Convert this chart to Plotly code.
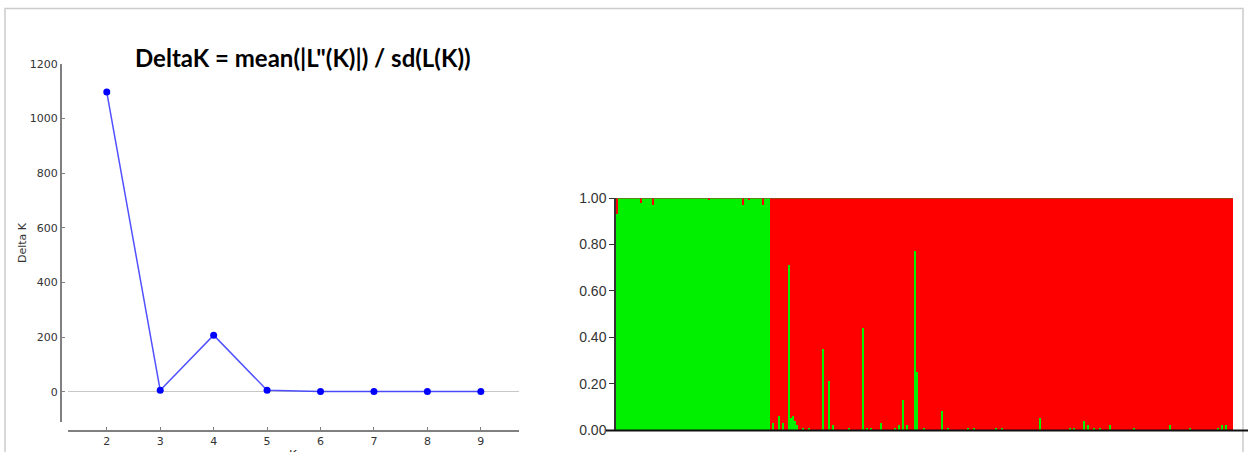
import plotly.graph_objects as go

# ---- Delta K data (Evanno method) ----
k_values = [2, 3, 4, 5, 6, 7, 8, 9]
delta_k = [1097, 5, 207, 5, 0.5, 0.3, 0.5, 0.2]
y_ticks_dk = [0, 200, 400, 600, 800, 1000, 1200]

# ---- STRUCTURE bar plot data (K=2): membership in cluster 1 (green) ----
pop1_green = [
    0.93, 1, 1, 1, 1, 1, 1, 1, 1, 1, 1, 1, 0.98, 1, 1, 1, 1, 1, 0.97, 1,
    1, 1, 1, 1, 1, 1, 1, 1, 1, 1, 1, 1, 1, 1, 1, 1, 1, 1, 1, 1,
    1, 1, 1, 1, 1, 1, 0.99, 1, 1, 1, 1, 1, 1, 1, 1, 1, 1, 1, 1, 1,
    1, 1, 1, 0.97, 1, 1, 0.99, 1, 1, 1, 1, 1, 1, 0.97, 1, 1, 1,
]
pop2_green = [
    0, 0.03, 0, 0, 0.06, 0, 0.03, 0, 0, 0.71, 0.05, 0.06, 0.04, 0.02, 0, 0, 0.01, 0, 0, 0.01,
    0, 0, 0, 0, 0, 0, 0.35, 0, 0, 0.21, 0, 0.02, 0, 0, 0, 0, 0, 0, 0, 0.01,
    0, 0, 0, 0, 0, 0, 0.44, 0, 0.01, 0, 0.01, 0, 0, 0, 0, 0.03, 0, 0, 0, 0,
    0, 0, 0.01, 0, 0.02, 0, 0.13, 0, 0.02, 0, 0, 0, 0.77, 0.25, 0, 0, 0.01, 0, 0, 0,
    0, 0, 0, 0, 0, 0.08, 0, 0, 0.01, 0, 0, 0, 0, 0, 0, 0, 0, 0, 0.01, 0,
    0, 0.01, 0, 0, 0, 0, 0, 0, 0, 0, 0, 0, 0.01, 0, 0, 0.01, 0, 0, 0, 0,
    0, 0, 0, 0, 0, 0, 0, 0, 0, 0, 0, 0, 0, 0, 0.05, 0, 0, 0, 0, 0,
    0, 0, 0, 0, 0, 0, 0, 0, 0, 0.01, 0, 0.01, 0, 0, 0, 0, 0.04, 0, 0.02, 0,
    0, 0.01, 0, 0, 0.01, 0, 0, 0, 0, 0.02, 0, 0, 0, 0, 0, 0, 0, 0, 0, 0,
    0, 0.01, 0, 0, 0, 0, 0, 0, 0, 0, 0, 0, 0, 0, 0, 0, 0, 0, 0, 0.02,
    0, 0, 0, 0, 0, 0, 0, 0, 0, 0.01, 0, 0, 0, 0, 0, 0, 0, 0, 0, 0,
    0, 0, 0, 0.01, 0, 0.02, 0, 0.02, 0, 0, 0,
]
q_ticks = [0, 0.2, 0.4, 0.6, 0.8, 1.0]
q_ticktext = ["0.00", "0.20", "0.40", "0.60", "0.80", "1.00"]

green_q = pop1_green + pop2_green
red_q = [round(1 - g, 4) for g in green_q]
individuals = list(range(len(green_q)))
n_ind = len(green_q)

W, H = 1248, 452
def px(x):
    return x / W
def py(y):
    return 1 - y / H

fig = go.Figure()
fig.add_trace(go.Scatter(
    x=k_values, y=delta_k, mode="lines+markers",
    line=dict(color="rgba(50,50,255,0.85)", width=1.5),
    marker=dict(color="#0000ff", size=7),
    xaxis="x", yaxis="y", hoverinfo="x+y",
))
fig.add_trace(go.Bar(
    x=individuals, y=green_q, marker=dict(color="#00f000", line=dict(width=0)),
    xaxis="x2", yaxis="y2",
))
fig.add_trace(go.Bar(
    x=individuals, y=red_q, marker=dict(color="#ff0000", line=dict(width=0)),
    xaxis="x2", yaxis="y2",
))

tickfont_l = dict(family="DejaVu Sans", size=11, color="#333333")
fig.update_layout(
    width=W, height=H, autosize=False,
    margin=dict(l=0, r=0, t=0, b=0, pad=0),
    paper_bgcolor="white", plot_bgcolor="white",
    showlegend=False, barmode="stack", bargap=0,
    xaxis=dict(
        domain=[px(68.3), px(519.3)], range=[1.28, 9.72],
        anchor="free", position=py(430.7),
        showline=True, linecolor="#808080", linewidth=2,
        ticks="inside", ticklen=3, tickcolor="#808080",
        tickvals=k_values, showgrid=False, zeroline=False,
        tickfont=tickfont_l, automargin=False,
    ),
    yaxis=dict(
        domain=[py(421.7), py(64)], range=[-110, 1200],
        anchor="free", position=px(61),
        showline=True, linecolor="#808080", linewidth=2,
        ticks="inside", ticklen=3, tickcolor="#808080",
        tickvals=y_ticks_dk, showgrid=False,
        zeroline=True, zerolinecolor="#c8c8c8", zerolinewidth=1,
        tickfont=tickfont_l, automargin=False,
    ),
    xaxis2=dict(
        domain=[px(616), px(1233)], range=[-0.5, n_ind - 0.5],
        anchor="y2", showticklabels=False, showgrid=False, zeroline=False,
        showline=False, ticks="", automargin=False,
    ),
    yaxis2=dict(
        domain=[py(430), py(198)], range=[0, 1],
        anchor="x2", tickvals=q_ticks, ticktext=q_ticktext,
        ticks="outside", ticklen=5, tickcolor="#333333",
        showline=True, linecolor="#333333", linewidth=1.5,
        showgrid=False, zeroline=False, automargin=False,
        tickfont=dict(family="Liberation Sans Narrow, Liberation Sans", size=14, color="#333333"),
    ),
)

fig.add_shape(type="rect", xref="paper", yref="paper",
              x0=px(5), x1=px(1243), y0=-0.05, y1=py(8.5),
              line=dict(color="#cccccc", width=1.5), fillcolor="rgba(0,0,0,0)", layer="above")
fig.add_shape(type="line", xref="paper", yref="paper",
              x0=px(606), x1=1.0, y0=py(430.5), y1=py(430.5),
              line=dict(color="#111111", width=2), layer="above")
fig.add_shape(type="line", xref="x2", yref="y2",
              x0=-0.5, x1=n_ind - 0.5, y0=1, y1=1,
              line=dict(color="#7a6020", width=1.5), layer="above")

fig.add_annotation(x=px(303), y=py(57), xref="paper", yref="paper",
                   xanchor="center", yanchor="middle",
                   text="<b>DeltaK = mean(|L\"(K)|) / sd(L(K))</b>",
                   showarrow=False, font=dict(family="Lato", size=24, color="#000000"))
fig.add_annotation(x=px(22), y=py(243), xref="paper", yref="paper",
                   xanchor="center", yanchor="middle",
                   text="Delta K", textangle=-90, showarrow=False,
                   font=dict(family="DejaVu Sans", size=11, color="#333333"))
fig.add_annotation(x=px(293), y=py(446), xref="paper", yref="paper",
                   xanchor="center", yanchor="top",
                   text="K", showarrow=False,
                   font=dict(family="DejaVu Sans", size=12, color="#333333"))

fig.write_html(
    "out.html",
    config={"displayModeBar": False},
    post_script="document.body.style.margin='0';document.body.style.overflow='hidden';",
)
